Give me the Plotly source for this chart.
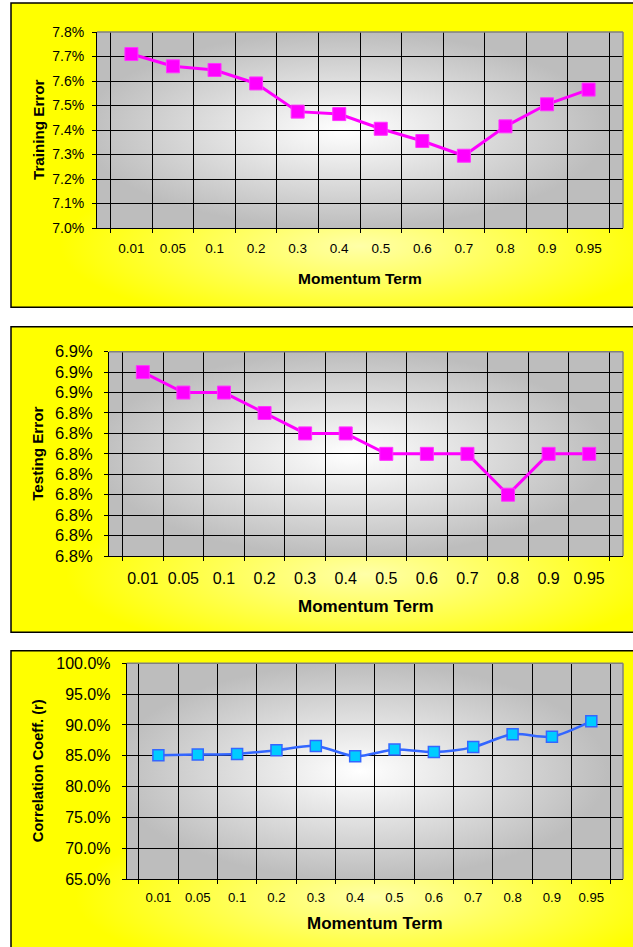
import base64
import plotly.graph_objects as go

# ---- data -------------------------------------------------------------
momentum = ["0.01", "0.05", "0.1", "0.2", "0.3", "0.4", "0.5", "0.6", "0.7", "0.8", "0.9", "0.95"]

training_error = [7.71, 7.66, 7.645, 7.59, 7.475, 7.465, 7.405, 7.355, 7.295, 7.415, 7.505, 7.565]
testing_error = [6.852, 6.850, 6.850, 6.848, 6.846, 6.846, 6.844, 6.844, 6.844, 6.840, 6.844, 6.844]
correlation = [85.1, 85.2, 85.3, 85.9, 86.6, 84.9, 86.0, 85.6, 86.4, 88.5, 88.1, 90.6]

train_ticks = [7.0, 7.1, 7.2, 7.3, 7.4, 7.5, 7.6, 7.7, 7.8]
train_labels = ["7.0%", "7.1%", "7.2%", "7.3%", "7.4%", "7.5%", "7.6%", "7.7%", "7.8%"]

test_ticks = [6.834, 6.836, 6.838, 6.840, 6.842, 6.844, 6.846, 6.848, 6.850, 6.852, 6.854]
test_labels = ["6.8%", "6.8%", "6.8%", "6.8%", "6.8%", "6.8%", "6.8%", "6.8%", "6.9%", "6.9%", "6.9%"]

corr_ticks = [65, 70, 75, 80, 85, 90, 95, 100]
corr_labels = ["65.0%", "70.0%", "75.0%", "80.0%", "85.0%", "90.0%", "95.0%", "100.0%"]

# ---- page geometry (pixels) ------------------------------------------
W, H = 633, 947
FONT = "Liberation Sans, Arial, sans-serif"


def fx(x):
    return x / W


def fy(y):
    return 1 - y / H


def svg_uri(svg):
    return "data:image/svg+xml;base64," + base64.b64encode(svg.encode()).decode()


# grey radial fill for each plot area
grey_svg = svg_uri(
    '<svg xmlns="http://www.w3.org/2000/svg" width="200" height="200" viewBox="0 0 200 200" preserveAspectRatio="none">'
    '<defs><radialGradient id="g" cx="0.47" cy="0.5" r="0.5">'
    '<stop offset="0" stop-color="#ffffff"/><stop offset="1" stop-color="#bdbdbd"/>'
    '</radialGradient></defs><rect width="200" height="200" fill="url(#g)"/></svg>'
)

# panels: frame box, plot box, fonts
panels = [
    dict(frame=(11, 3, 645, 307.3), plot=(97, 32, 623, 228),
         ytf=14, xtf=13.5, ttf_y=15.2, ttf_x=15.5, xtitle_y=278, ystand=5, xstand=8),
    dict(frame=(11, 326.7, 645, 632.3), plot=(109, 351.7, 623, 556),
         ytf=16.5, xtf=16, ttf_y=15.2, ttf_x=17, xtitle_y=606.7, ystand=8, xstand=8),
    dict(frame=(11, 650.7, 645, 955), plot=(126.7, 663.3, 623, 879),
         ytf=16, xtf=13.2, ttf_y=14.6, ttf_x=17, xtitle_y=923, ystand=8, xstand=6),
]

y_titles = ["Training Error", "Testing Error", "Correlation Coeff. (r)"]
y_series = [training_error, testing_error, correlation]
y_ticks = [train_ticks, test_ticks, corr_ticks]
y_labels = [train_labels, test_labels, corr_labels]
y_ranges = [[7.0, 7.8], [6.834, 6.854], [65, 100]]

fig = go.Figure()
layout = dict(
    width=W, height=H, autosize=False,
    margin=dict(l=0, r=0, t=0, b=0, pad=0),
    paper_bgcolor="white", plot_bgcolor="rgba(0,0,0,0)",
    showlegend=False,
    font=dict(family=FONT, color="black"),
    images=[], shapes=[], annotations=[],
)

for i, p in enumerate(panels):
    n = "" if i == 0 else str(i + 1)
    xa, ya = "x" + n, "y" + n
    fx0, fy0, fx1, fy1 = p["frame"]
    px0, py0, px1, py1 = p["plot"]
    fw, fh = fx1 - fx0, fy1 - fy0

    # yellow frame with a pale glow under the plot area
    cx = (px0 + px1) / 2 - fx0
    cy = py1 + 18 - fy0
    yellow_svg = svg_uri(
        f'<svg xmlns="http://www.w3.org/2000/svg" width="{fw}" height="{fh}" viewBox="0 0 {fw} {fh}" preserveAspectRatio="none">'
        f'<defs><radialGradient id="y" gradientUnits="userSpaceOnUse" cx="{cx}" cy="{cy}" r="300" '
        f'gradientTransform="translate({cx} {cy}) scale(1 0.28) translate({-cx} {-cy})">'
        '<stop offset="0" stop-color="#ffffa8"/><stop offset="1" stop-color="#ffff00"/>'
        f'</radialGradient></defs><rect width="{fw}" height="{fh}" fill="#ffff00"/>'
        f'<rect width="{fw}" height="{fh}" fill="url(#y)"/></svg>'
    )
    layout["images"].append(dict(
        source=yellow_svg, xref="paper", yref="paper", x=fx(fx0), y=fy(fy0),
        sizex=fw / W, sizey=fh / H, sizing="stretch", xanchor="left", yanchor="top",
        layer="below"))
    layout["shapes"].append(dict(
        type="rect", xref="paper", yref="paper", x0=fx(fx0), x1=fx(fx1), y0=fy(fy0), y1=fy(fy1),
        line=dict(color="black", width=1.5), fillcolor="rgba(0,0,0,0)", layer="below"))

    # grey plot-area fill
    layout["images"].append(dict(
        source=grey_svg, xref=xa + " domain", yref=ya + " domain", x=0, y=1,
        sizex=1, sizey=1, sizing="stretch", xanchor="left", yanchor="top", layer="below"))

    # grey border on the top and right of the plot area
    layout["shapes"].append(dict(type="line", xref=xa + " domain", yref=ya + " domain",
                                 x0=0, x1=1, y0=1, y1=1, line=dict(color="#808080", width=1.5)))
    layout["shapes"].append(dict(type="line", xref=xa + " domain", yref=ya + " domain",
                                 x0=1, x1=1, y0=0, y1=1, line=dict(color="#808080", width=1.5)))

    layout["xaxis" + n] = dict(
        domain=[fx(px0), fx(px1)], anchor=ya, type="category", automargin=False,
        tickson="boundaries", ticks="outside", ticklen=4, tickcolor="black",
        showgrid=True, gridcolor="black", gridwidth=1,
        showline=True, linecolor="black", linewidth=1,
        tickfont=dict(size=p["xtf"], family=FONT, color="black"),
        ticklabelstandoff=p["xstand"], fixedrange=True)
    layout["yaxis" + n] = dict(
        domain=[fy(py1), fy(py0)], anchor=xa, range=y_ranges[i], automargin=False,
        tickmode="array", tickvals=y_ticks[i], ticktext=y_labels[i],
        ticks="outside", ticklen=4, tickcolor="black",
        showgrid=True, gridcolor="black", gridwidth=1, zeroline=False,
        showline=True, linecolor="black", linewidth=1,
        tickfont=dict(size=p["ytf"], family=FONT, color="black"),
        ticklabelstandoff=p["ystand"], fixedrange=True)

    layout["annotations"].append(dict(
        text="<b>" + y_titles[i] + "</b>", xref="paper", yref=ya + " domain",
        x=fx(38), y=0.5, xanchor="center", yanchor="middle", textangle=-90,
        showarrow=False, font=dict(size=p["ttf_y"], family=FONT, color="black")))
    layout["annotations"].append(dict(
        text="<b>Momentum Term</b>", xref=xa + " domain", yref="paper",
        x=0.5, y=fy(p["xtitle_y"]), xanchor="center", yanchor="middle",
        showarrow=False, font=dict(size=p["ttf_x"], family=FONT, color="black")))

    if i < 2:
        fig.add_trace(go.Scatter(
            x=momentum, y=y_series[i], xaxis=xa, yaxis=ya, mode="lines+markers",
            line=dict(color="#ff00ff", width=3),
            marker=dict(symbol="square", size=13, color="#ff00ff",
                        line=dict(color="#ff33ff", width=1)),
            cliponaxis=False))
    else:
        fig.add_trace(go.Scatter(
            x=momentum, y=y_series[i], xaxis=xa, yaxis=ya, mode="lines+markers",
            line=dict(color="#3366ff", width=2.5, shape="spline", smoothing=0.8),
            marker=dict(symbol="square", size=11, color="#00ccff",
                        line=dict(color="#3366ff", width=1.5)),
            cliponaxis=False))

fig.update_layout(**layout)
fig.write_html("out.html")
